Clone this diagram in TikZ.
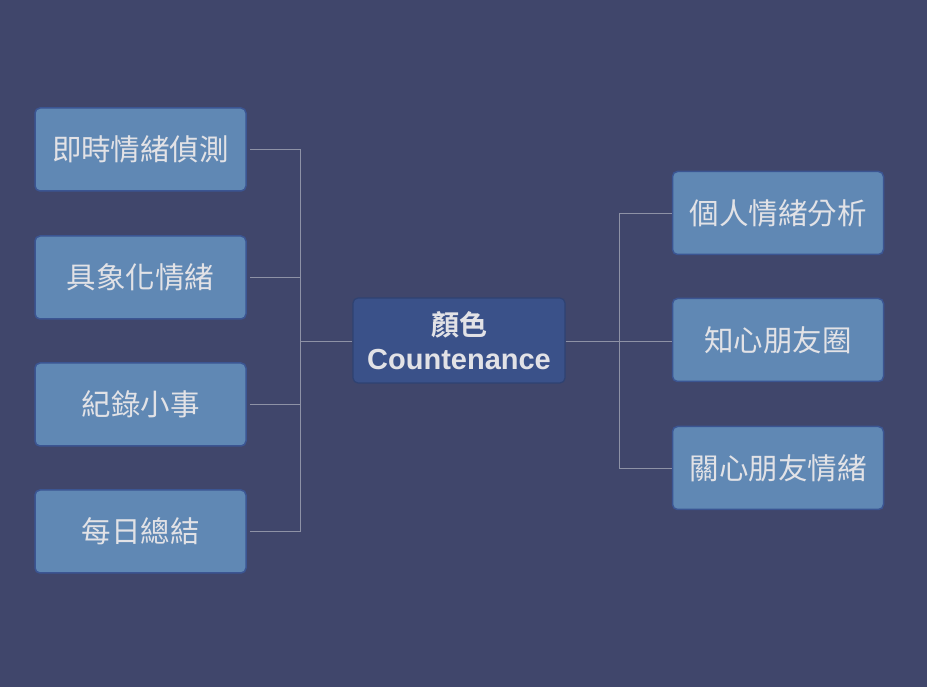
\documentclass[tikz,border=0pt]{standalone}
\usepackage{fontspec}
\newfontfamily\cjk{Noto Sans CJK TC}
\newfontfamily\cjkb{Noto Sans CJK TC Bold}
\newfontfamily\latb{Liberation Sans Bold}
\definecolor{bg}{HTML}{40466B}
\definecolor{leaf}{HTML}{6088B4}
\definecolor{leafline}{HTML}{3B5592}
\definecolor{root}{HTML}{3A5189}
\definecolor{rootline}{HTML}{2F4272}
\definecolor{txt}{HTML}{E2E2E6}
\definecolor{conn}{HTML}{8E92A6}
\tikzset{
  leafbox/.style={draw=leafline, line width=1.5pt, fill=leaf, rounded corners=5pt,
    minimum width=211pt, minimum height=83pt, inner sep=0pt, text=txt,
    font=\cjk\fontsize{29.5}{34}\selectfont},
  rootbox/.style={draw=rootline, line width=1.2pt, fill=root, rounded corners=5pt,
    minimum width=212pt, minimum height=85pt, inner sep=0pt, text=txt, align=center,
    font=\cjkb\fontsize{28}{34}\selectfont},
  link/.style={draw=conn, line width=0.8pt}
}
\begin{document}
\begin{tikzpicture}[x=1pt,y=1pt]
\fill[bg] (0,0) rectangle (927,687);
\useasboundingbox (0,0) rectangle (927,687);
% root
\node[rootbox] (root) at (459,346.5) {顏色\\{\latb\fontsize{29}{34}\selectfont Countenance}};
% left
\node[leafbox] (l1) at (140.5,537.5) {即時情緒偵測};
\node[leafbox] (l2) at (140.5,409.5) {具象化情緒};
\node[leafbox] (l3) at (140.5,282.5) {紀錄小事};
\node[leafbox] (l4) at (140.5,155.5) {每日總結};
% right
\node[leafbox] (r1) at (778,474) {個人情緒分析};
\node[leafbox] (r2) at (778,347) {知心朋友圈};
\node[leafbox] (r3) at (778,219) {關心朋友情緒};
% junctions
\coordinate (jl) at (300,346);
\coordinate (jr) at (619,346);
\draw[link] (root.west |- jl) -- (jl);
\draw[link] ([xshift=3pt]l1.east) -| (jl);
\draw[link] ([xshift=3pt]l2.east) -| (jl);
\draw[link] ([xshift=3pt]l3.east) -| (jl);
\draw[link] ([xshift=3pt]l4.east) -| (jl);
\draw[link] (root.east |- jr) -- (r2.west |- jr);
\draw[link] (jr) |- (r1.west);
\draw[link] (jr) |- (r3.west);
\end{tikzpicture}
\end{document}
